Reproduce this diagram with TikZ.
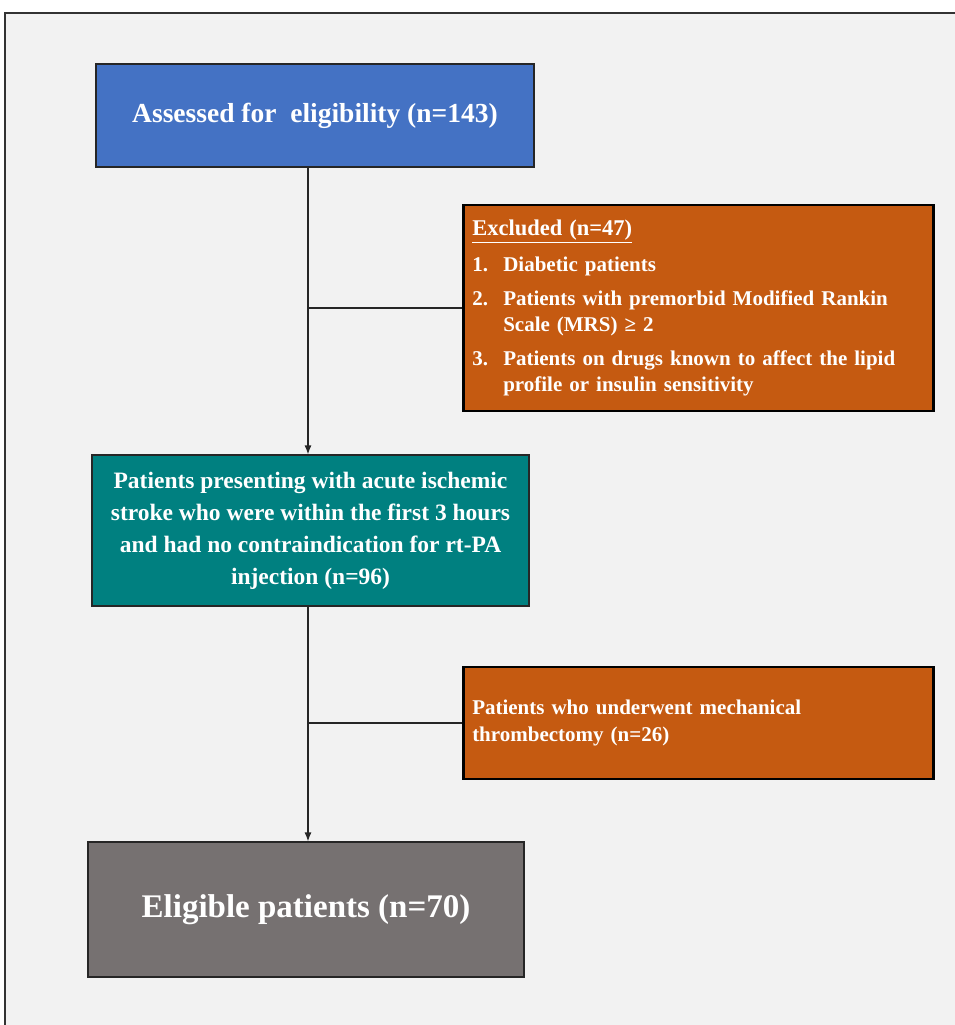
\documentclass[tikz,border=0pt]{standalone}
\usepackage{fontspec}
\setmainfont{Liberation Serif}
\usetikzlibrary{arrows.meta}
\definecolor{boxblue}{HTML}{4472C4}
\definecolor{boxorange}{HTML}{C55A11}
\definecolor{boxteal}{HTML}{008080}
\definecolor{boxgray}{HTML}{767171}
\definecolor{panel}{HTML}{F2F2F2}
\tikzset{
  stage/.style={draw=black!85,line width=1.2pt,text=white,inner sep=0pt,align=center},
  drop/.style={draw=black,line width=2.5pt,fill=boxorange,text=white,align=left,
    inner sep=9pt,anchor=west,minimum width=470pt,text width=452pt},
  flow/.style={-{Latex[length=9pt,width=7pt]},line width=1.2pt,draw=black!85},
  branch/.style={line width=1.2pt,draw=black!85}
}
\begin{document}
\begin{tikzpicture}[x=1pt,y=1pt]
\useasboundingbox (0,0) rectangle (954,-1025);
\fill[white] (0,0) rectangle (954,-1025);
\draw[line width=2pt,draw=black!80,fill=panel] (5,-13) rectangle (975,-1045);
\coordinate (spine) at (308,0);

\node[stage,fill=boxblue,minimum width=438pt,minimum height=103pt,
  font=\bfseries\fontsize{27.5}{30}\selectfont] (assess) at (315,-115.5)
  {Assessed for\ \ eligibility (n=143)};
\node[drop,minimum height=206pt,font=\bfseries\fontsize{21}{26}\selectfont] (excl) at (462,-308)
  {{\fontsize{22.5}{26}\selectfont\underline{Excluded (n=47)}}\\[10pt]
   \makebox[31pt][l]{1.}Diabetic patients\\[8pt]
   \makebox[31pt][l]{2.}Patients with premorbid Modified Rankin\\
   \hspace*{31pt}Scale (MRS) ≥ 2\\[8pt]
   \makebox[31pt][l]{3.}Patients on drugs known to affect the lipid\\
   \hspace*{31pt}profile or insulin sensitivity};
\node[stage,fill=boxteal,minimum width=437pt,minimum height=151pt,
  font=\bfseries\fontsize{23.5}{32}\selectfont] (teal) at (310.5,-530.5)
  {Patients presenting with acute ischemic\\stroke who were within the first 3 hours\\
   and had no contraindication for rt-PA\\injection (n=96)};
\node[drop,minimum height=112pt,font=\bfseries\fontsize{21}{27}\selectfont] (mech) at (462,-723)
  {Patients who underwent mechanical\\thrombectomy (n=26)};
\node[stage,fill=boxgray,minimum width=436pt,minimum height=135pt,
  font=\bfseries\fontsize{33}{36}\selectfont] (elig) at (306,-909.5)
  {Eligible patients (n=70)};

\draw[flow] (assess.south -| spine) -- (teal.north -| spine);
\draw[branch] (excl.west) -- (excl.west -| spine);
\draw[flow] (teal.south -| spine) -- (elig.north -| spine);
\draw[branch] (mech.west) -- (mech.west -| spine);
\end{tikzpicture}
\end{document}
